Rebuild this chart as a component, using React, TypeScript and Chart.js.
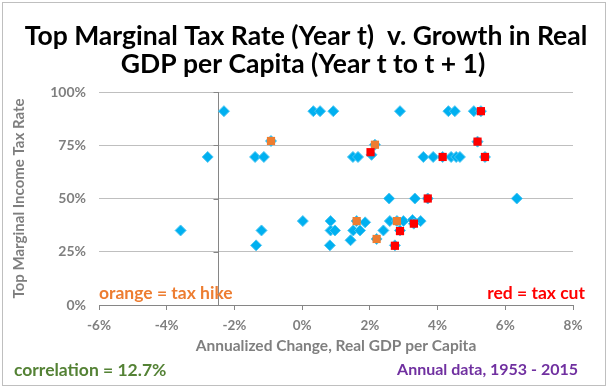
import { useEffect, useRef } from 'react';
import { Chart, registerables } from 'chart.js';
Chart.register(...registerables);

const titleLines = ['Top Marginal Tax Rate (Year t)  v. Growth in Real', 'GDP per Capita (Year t to t + 1)'];
const xTickValues = [-6, -4, -2, 0, 2, 4, 6, 8];
const yTickValues = [0, 25, 50, 75, 100];
const verticalAxisCross = -2.5;

// all years (blue diamonds)
const allX = [
  -2.31, 0.33, 0.53, 0.92, 2.89, 4.32, 4.51, 5.07, 5.28,
  -2.79, -1.39, -1.13, 1.5, 1.65, 2.05, 3.58, 3.87, 4.15, 4.4, 4.55, 4.66, 5.4,
  -0.92, 2.15, 5.18,
  2.57, 3.33, 3.71, 6.34,
  0.02, 0.84, 1.61, 1.86, 2.59, 2.8, 2.99, 3.26, 3.5, 3.3,
  -3.59, -1.2, 0.84, 0.97, 1.51, 1.71, 2.4, 2.89,
  1.43, 2.2,
  -1.36, 0.82, 2.74,
];
const allY = [
  91, 91, 91, 91, 91, 91, 91, 91, 91,
  69.5, 69.5, 69.5, 69.5, 69.5, 70.5, 69.5, 69.5, 69.5, 69.5, 69.5, 69.5, 69.5,
  77, 75.25, 76.7,
  50, 50, 50, 50,
  39.4, 39.4, 39.4, 38.8, 39.4, 39.4, 39.4, 39.9, 39.4, 38.2,
  35, 35, 35, 35, 35, 35, 35, 35,
  30.4, 31,
  28, 28, 28,
];
// tax hikes (orange squares)
const hikeX = [-0.92, 2.15, 1.61, 2.8, 2.2];
const hikeY = [77, 75.25, 39.4, 39.4, 31];
// tax cuts (red squares)
const cutX = [5.28, 2.02, 5.18, 4.15, 5.4, 3.71, 3.3, 2.89, 2.74];
const cutY = [91, 71.75, 76.7, 69.5, 69.5, 50, 38.2, 34.7, 27.8];

const FONT = 'Lato, "Open Sans", sans-serif';
const GRAY = '#7F7F7F';

function pts(xs: number[], ys: number[]) {
  return xs.map((x, i) => ({ x, y: ys[i] }));
}

const overlayPlugin = {
  id: 'overlay',
  beforeDatasetsDraw(chart: any) {
    const { ctx, scales } = chart;
    const x = scales.x;
    const y = scales.y;
    const px = Math.round(x.getPixelForValue(verticalAxisCross)) + 0.5;
    ctx.save();
    ctx.strokeStyle = '#868686';
    ctx.lineWidth = 1;
    ctx.beginPath();
    ctx.moveTo(px, Math.round(y.getPixelForValue(100)));
    ctx.lineTo(px, Math.round(y.getPixelForValue(0)));
    for (const t of yTickValues) {
      const py = Math.round(y.getPixelForValue(t)) + 0.5;
      ctx.moveTo(px - 5, py);
      ctx.lineTo(px, py);
    }
    ctx.stroke();
    ctx.restore();
  },
  afterDraw(chart: any) {
    const { ctx, scales } = chart;
    const x = scales.x;
    ctx.save();
    // border
    ctx.strokeStyle = '#BFBFBF';
    ctx.lineWidth = 1;
    ctx.strokeRect(2.5, 2.5, 603, 383);
    // title
    ctx.fillStyle = '#000000';
    ctx.font = `bold 26.5px ${FONT}`;
    ctx.textAlign = 'center';
    ctx.textBaseline = 'middle';
    ctx.fillText(titleLines[0], 306, 36);
    ctx.fillText(titleLines[1], 303, 64);
    // notes
    ctx.font = `bold 17.5px ${FONT}`;
    ctx.textAlign = 'left';
    ctx.fillStyle = '#ED7D31';
    ctx.fillText('orange = tax hike', x.left, 293);
    ctx.textAlign = 'right';
    ctx.fillStyle = '#FF0000';
    ctx.fillText('red = tax cut', 585, 293);
    ctx.textAlign = 'left';
    ctx.fillStyle = '#548235';
    ctx.fillText('correlation = 12.7%', 14, 370);
    ctx.font = `bold 16px ${FONT}`;
    ctx.textAlign = 'right';
    ctx.fillStyle = '#7030A0';
    ctx.fillText('Annual data, 1953 - 2015', 578, 370);
    ctx.restore();
  },
};

export default function App() {
  const ref = useRef<HTMLCanvasElement | null>(null);
  useEffect(() => {
    document.body.style.margin = '0';
    const canvas = ref.current;
    if (!canvas) return;
    const chart = new Chart(canvas, {
      type: 'scatter',
      data: {
        datasets: [
          {
            label: 'Tax cut',
            data: pts(cutX, cutY),
            pointStyle: 'rect',
            pointRadius: 5.8,
            backgroundColor: '#FF0000',
            borderColor: '#FF0000',
            borderWidth: 0,
            order: 1,
          },
          {
            label: 'Tax hike',
            data: pts(hikeX, hikeY),
            pointStyle: 'rect',
            pointRadius: 5.8,
            backgroundColor: '#ED7D31',
            borderColor: '#ED7D31',
            borderWidth: 0,
            order: 2,
          },
          {
            label: 'All years',
            data: pts(allX, allY),
            pointStyle: 'rectRot',
            pointRadius: 5.5,
            backgroundColor: '#00B0F0',
            borderColor: '#4FC6F2',
            borderWidth: 1,
            order: 3,
          },
        ],
      },
      options: {
        animation: false,
        responsive: false,
        maintainAspectRatio: false,
        layout: { padding: { top: 92, right: 35, left: 0, bottom: 0 } },
        plugins: { legend: { display: false }, tooltip: { enabled: false }, title: { display: false } },
        scales: {
          x: {
            type: 'linear',
            min: -6,
            max: 8,
            afterBuildTicks: (s: any) => { s.ticks = xTickValues.map((v) => ({ value: v })); },
            afterFit: (s: any) => { s.height = 84; },
            ticks: {
              callback: (v: any) => `${v}%`,
              color: GRAY,
              font: { family: FONT, size: 13.5, weight: 'bold' },
              padding: 8,
              maxRotation: 0,
            },
            grid: { drawOnChartArea: false, drawTicks: true, tickLength: 5, color: '#868686' },
            border: { display: true, color: '#868686' },
            title: {
              display: true,
              text: 'Annualized Change, Real GDP per Capita',
              color: GRAY,
              font: { family: FONT, size: 15.5, weight: 'bold' },
              padding: { top: 0, bottom: 34 },
            },
          },
          y: {
            type: 'linear',
            min: 0,
            max: 100,
            afterBuildTicks: (s: any) => { s.ticks = yTickValues.map((v) => ({ value: v })); },
            afterFit: (s: any) => { s.width = 99; },
            ticks: {
              callback: (v: any) => `${v}%`,
              color: GRAY,
              font: { family: FONT, size: 14, weight: 'bold' },
              padding: 13,
            },
            grid: { drawTicks: false, color: '#BFBFBF' },
            border: { display: false },
            title: {
              display: true,
              text: 'Top Marginal Income Tax Rate',
              color: GRAY,
              font: { family: FONT, size: 15, weight: 'bold' },
              padding: { top: 10, bottom: 0 },
            },
          },
        },
      },
      plugins: [overlayPlugin],
    });
    return () => chart.destroy();
  }, []);
  return (
    <div style={{ width: 608, height: 389 }}>
      <canvas ref={ref} width={608} height={389} style={{ display: 'block' }} />
    </div>
  );
}
